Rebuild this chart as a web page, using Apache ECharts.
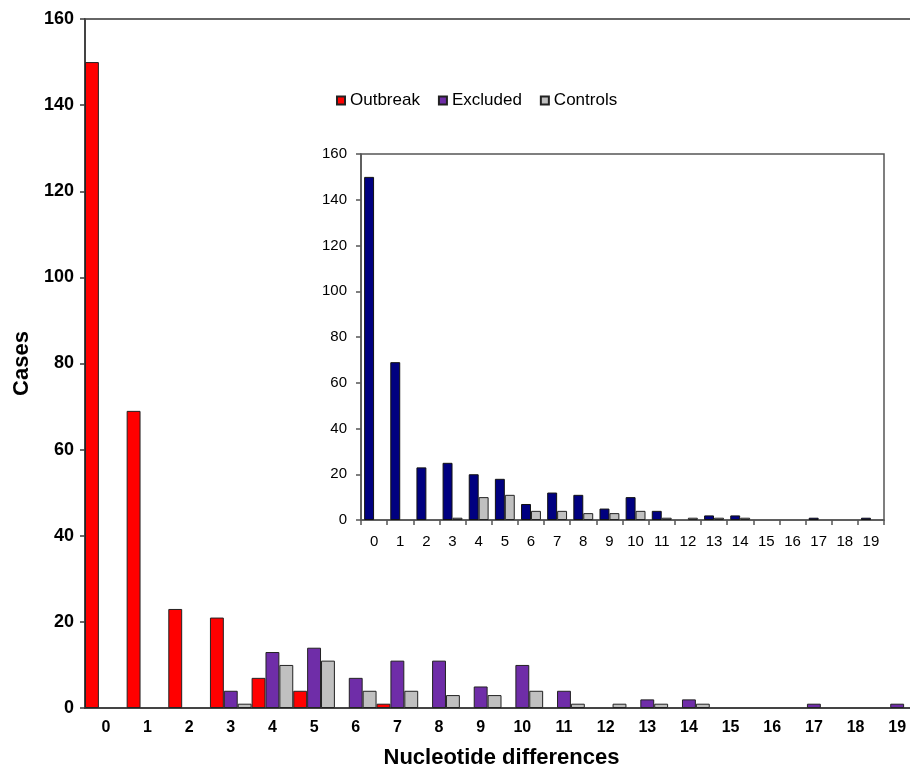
<!DOCTYPE html>
<html>
<head>
<meta charset="utf-8">
<script src="https://cdn.jsdelivr.net/npm/echarts@6/dist/echarts.min.js"></script>
<style>
  html, body { margin: 0; padding: 0; background: #fff; }
  #chart { width: 910px; height: 768px; }
</style>
</head>
<body>
<div id="chart"></div>
<script>
// Nucleotide differences between isolate pairs (0..19)
const categories = ['0','1','2','3','4','5','6','7','8','9','10','11','12','13','14','15','16','17','18','19'];

// Main panel: cases by group
const outbreak = [150, 69, 23, 21, 7, 4, 0, 1, 0, 0, 0, 0, 0, 0, 0, 0, 0, 0, 0, 0];
const excluded = [0, 0, 0, 4, 13, 14, 7, 11, 11, 5, 10, 4, 0, 2, 2, 0, 0, 1, 0, 1];
const controls = [0, 0, 0, 1, 10, 11, 4, 4, 3, 3, 4, 1, 1, 1, 1, 0, 0, 0, 0, 0];

// Inset panel: all cases vs controls
const insetCases    = [150, 69, 23, 25, 20, 18, 7, 12, 11, 5, 10, 4, 0, 2, 2, 0, 0, 1, 0, 1];
const insetControls = [0, 0, 0, 1, 10, 11, 4, 4, 3, 3, 4, 1, 1, 1, 1, 0, 0, 0, 0, 0];

const legendNames = ['Outbreak', 'Excluded', 'Controls'];

// empty bins are left blank rather than drawn as flat outlines
const bars = arr => arr.map(v => (v === 0 ? '-' : v));

const FONT = '"Liberation Sans", Arial, sans-serif';
const AXIS_DARK = '#3a3a3a';

const chart = echarts.init(document.getElementById('chart'), null, { renderer: 'canvas' });

chart.setOption({
  animation: false,
  backgroundColor: '#fff',
  textStyle: { fontFamily: FONT },
  legend: {
    data: legendNames,
    left: 331,
    top: 87,
    icon: 'rect',
    itemWidth: 8,
    itemHeight: 8,
    itemGap: 18,
    textStyle: { fontFamily: FONT, fontSize: 17, color: '#000' }
  },
  grid: [
    { left: 85, right: -8, top: 19, bottom: 60, outerBoundsMode: 'none', containLabel: false,
      show: true, borderColor: '#666', borderWidth: 2 },
    { left: 361, right: 26, top: 154, bottom: 248, outerBoundsMode: 'none', containLabel: false,
      show: true, borderColor: '#555', borderWidth: 1.5, backgroundColor: '#fff' }
  ],
  xAxis: [
    {
      gridIndex: 0,
      type: 'category',
      data: categories,
      name: 'Nucleotide differences',
      nameLocation: 'middle',
      nameGap: 39,
      nameTextStyle: { fontFamily: FONT, fontSize: 22, fontWeight: 'bold', color: '#000' },
      axisLine: { lineStyle: { color: AXIS_DARK, width: 1.5 } },
      axisTick: { show: false },
      axisLabel: { margin: 12, fontFamily: FONT, fontSize: 16, fontWeight: 'bold', color: '#000' }
    },
    {
      gridIndex: 1,
      type: 'category',
      data: categories,
      axisLine: { lineStyle: { color: '#555', width: 1.5 } },
      axisTick: { show: true, inside: false, length: 5, lineStyle: { color: '#555', width: 1.5 } },
      axisLabel: { margin: 14, fontFamily: FONT, fontSize: 15, color: '#000' }
    }
  ],
  yAxis: [
    {
      gridIndex: 0,
      type: 'value',
      min: 0,
      max: 160,
      interval: 20,
      name: 'Cases',
      nameLocation: 'middle',
      nameGap: 51,
      nameRotate: 90,
      nameTextStyle: { fontFamily: FONT, fontSize: 22, fontWeight: 'bold', color: '#000' },
      axisLine: { show: true, lineStyle: { color: AXIS_DARK, width: 1.5 } },
      axisTick: { show: true, length: 5, lineStyle: { color: AXIS_DARK, width: 1.5 } },
      axisLabel: { margin: 11, fontFamily: FONT, fontSize: 18, fontWeight: 'bold', color: '#000' },
      splitLine: { show: false }
    },
    {
      gridIndex: 1,
      type: 'value',
      min: 0,
      max: 160,
      interval: 20,
      axisLine: { show: true, lineStyle: { color: '#555', width: 1.5 } },
      axisTick: { show: true, length: 5, lineStyle: { color: '#555', width: 1.5 } },
      axisLabel: { margin: 14, fontFamily: FONT, fontSize: 15, color: '#000' },
      splitLine: { show: false }
    }
  ],
  series: [
    {
      name: 'Outbreak', type: 'bar', xAxisIndex: 0, yAxisIndex: 0,
      data: bars(outbreak), barGap: '0%', barCategoryGap: '0%',
      itemStyle: { color: '#ff0000', borderColor: '#222', borderWidth: 1 }
    },
    {
      name: 'Excluded', type: 'bar', xAxisIndex: 0, yAxisIndex: 0,
      data: bars(excluded), barGap: '0%', barCategoryGap: '0%',
      itemStyle: { color: '#6f2da8', borderColor: '#222', borderWidth: 1 }
    },
    {
      name: 'Controls', type: 'bar', xAxisIndex: 0, yAxisIndex: 0,
      data: bars(controls), barGap: '0%', barCategoryGap: '0%',
      itemStyle: { color: '#c0c0c0', borderColor: '#222', borderWidth: 1 }
    },
    {
      name: 'All cases', type: 'bar', xAxisIndex: 1, yAxisIndex: 1,
      data: bars(insetCases), barGap: '0%', barCategoryGap: '24%',
      itemStyle: { color: '#000080', borderColor: '#111', borderWidth: 1 }
    },
    {
      name: 'All controls', type: 'bar', xAxisIndex: 1, yAxisIndex: 1,
      data: bars(insetControls), barGap: '0%', barCategoryGap: '24%',
      itemStyle: { color: '#c0c0c0', borderColor: '#222', borderWidth: 1 }
    }
  ]
});
</script>
</body>
</html>
